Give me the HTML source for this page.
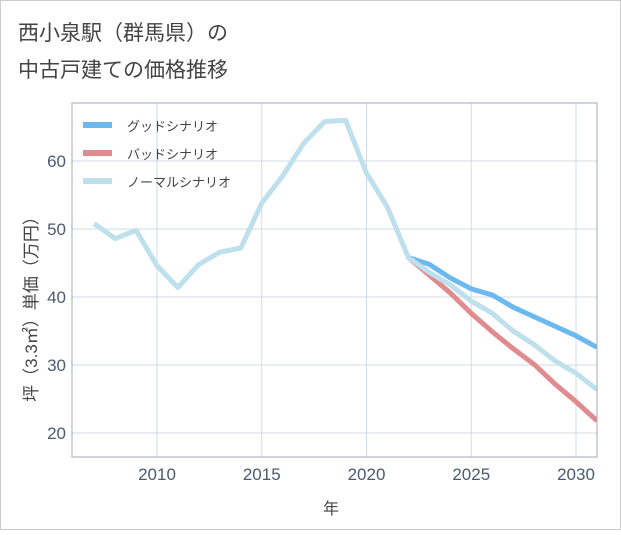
<!DOCTYPE html>
<html><head><meta charset="utf-8"><style>
body{margin:0;background:#fff;}
svg text{font-family:"Liberation Sans","Noto Sans CJK JP",sans-serif;}
</style></head><body>
<svg width="621" height="530" xmlns="http://www.w3.org/2000/svg">
<rect x="0.5" y="0.5" width="620" height="529" fill="#fff" stroke="#ccc"/>
<text x="18" y="40" font-size="21" fill="#444">西小泉駅（群馬県）の</text>
<text x="18" y="77" font-size="21" fill="#444">中古戸建ての価格推移</text>
<defs><clipPath id="pc"><rect x="72" y="103" width="525" height="354"/></clipPath></defs>
<g id="grid"></g>
<g id="ticks"></g>
<g id="series" clip-path="url(#pc)"></g>
<rect x="72" y="103" width="525" height="354" fill="none" stroke="#a0a8b0" stroke-width="1"/>
<text x="331" y="514" font-size="16" fill="#444" text-anchor="middle">年</text>
<text transform="translate(37,305) rotate(-90)" font-size="17" fill="#444" text-anchor="middle">坪（3.3㎡）単価（万円）</text>
<g>
<line x1="83" y1="125" x2="112" y2="125" stroke="#6bb9ef" stroke-width="6"/>
<text x="127" y="131" font-size="13" fill="#444">グッドシナリオ</text>
<line x1="83" y1="153" x2="112" y2="153" stroke="#e08b90" stroke-width="6"/>
<text x="127" y="159" font-size="13" fill="#444">バッドシナリオ</text>
<line x1="83" y1="181" x2="112" y2="181" stroke="#bde0ec" stroke-width="6"/>
<text x="127" y="187" font-size="13" fill="#444">ノーマルシナリオ</text>
</g>
</svg>
<script>
const normalYears=[2007,2008,2009,2010,2011,2012,2013,2014,2015,2016,2017,2018,2019,2020,2021,2022,2023,2024,2025,2026,2027,2028,2029,2030,2031];
const normalValues=[50.8,48.6,49.8,44.6,41.4,44.8,46.6,47.2,53.8,57.8,62.6,65.8,66.0,58.2,53.2,45.8,43.6,41.8,39.4,37.6,35.0,33.0,30.6,28.8,26.4];
const forecastYears=[2022,2023,2024,2025,2026,2027,2028,2029,2030,2031];
const goodValues=[45.8,44.8,42.8,41.2,40.3,38.5,37.1,35.7,34.3,32.6];
const badValues=[45.8,43.2,40.6,37.6,34.9,32.4,30.1,27.2,24.6,21.8];
const xTicks=[2010,2015,2020,2025,2030];
const yTicks=[20,30,40,50,60];
const X=y=>157+(y-2010)*20.95;
const Y=v=>433-(v-20)*6.8;
const NS="http://www.w3.org/2000/svg";
const grid=document.getElementById('grid'),ticks=document.getElementById('ticks'),ser=document.getElementById('series');
function mk(tag,attrs,parent){const e=document.createElementNS(NS,tag);for(const k in attrs)e.setAttribute(k,attrs[k]);parent.appendChild(e);return e;}
xTicks.forEach(t=>{
 const l=mk('line',{x1:X(t),x2:X(t),y1:103,y2:457,stroke:'#d0dbe5','stroke-width':1},grid);
 
 
 const tx=mk('text',{x:X(t),y:480,'font-size':17,fill:'#4a5a70','text-anchor':'middle'},ticks);
 tx.textContent=t;
 
 
});
yTicks.forEach(t=>{
 const l=mk('line',{x1:72,x2:597,y1:Y(t),y2:Y(t),stroke:'#d0dbe5','stroke-width':1},grid);
 
 
 const tx=mk('text',{x:66,y:Y(t)+6,'font-size':17,fill:'#4a5a70','text-anchor':'end'},ticks);
 tx.textContent=t;
 
 
});
function line(xs,vs,color,name){
 const p=mk('polyline',{points:xs.map((x,i)=>X(x)+','+Y(vs[i])).join(' '),fill:'none',stroke:color,'stroke-width':5,'stroke-linejoin':'round'},ser);
 
 
}
line(forecastYears,goodValues,'#6bb9ef','good-scenario-line');
line(forecastYears,badValues,'#e08b90','bad-scenario-line');
line(normalYears,normalValues,'#bde0ec','normal-scenario-line');
</script>
</body></html>
